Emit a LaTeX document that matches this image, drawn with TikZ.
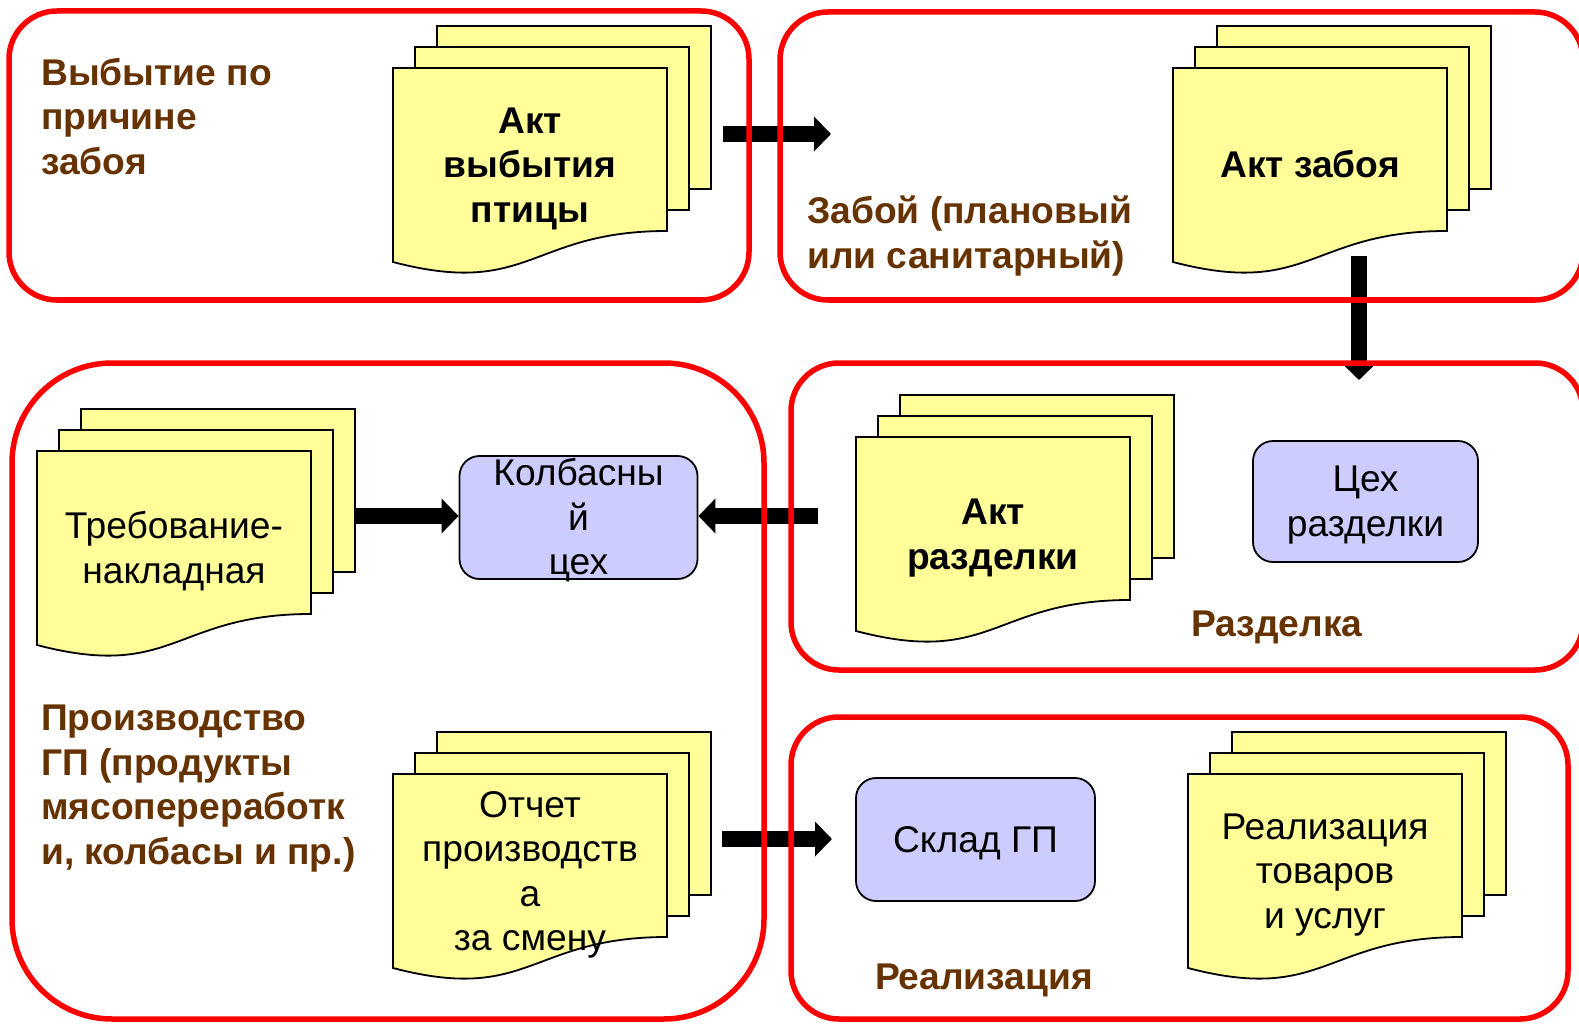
\documentclass[tikz,border=0pt]{standalone}
\usepackage{fontspec}
\setmainfont{Liberation Sans}
\usetikzlibrary{arrows.meta}
\definecolor{docyellow}{HTML}{FFFF99}
\definecolor{procblue}{HTML}{CCCCFF}
\definecolor{labelbrown}{HTML}{663300}
\definecolor{regionred}{HTML}{FF0000}
\tikzset{
  docpage/.style={fill=docyellow, draw=black, line width=1.8pt, line join=miter},
  stackarea/.style={inner sep=0pt, minimum width=318pt, minimum height=236pt},
  doctext/.style={align=center, inner sep=0pt, text=black, font=\fontsize{37.2}{44.5}\selectfont},
  docbold/.style={align=center, inner sep=0pt, text=black, font=\fontsize{37.2}{44.5}\selectfont\bfseries},
  grouplabel/.style={align=left, inner sep=0pt, anchor=west, text=labelbrown, font=\fontsize{37.2}{44.5}\selectfont\bfseries},
  procbox/.style={draw=black, fill=procblue, line width=1.8pt, rounded corners=20pt, inner sep=0pt},
  region/.style={draw=regionred, line width=5.5pt, rounded corners=#1},
  region/.default=48pt,
  blockarrow/.style={draw=black, line width=16pt, -{Triangle[length=17pt,width=34pt]}}
}
\newcommand{\mdoc}[5]{%
  \path[docpage] ({#2+44},{#3-42}) rectangle ({#2+318},{#3+121});
  \path[docpage] ({#2+22},{#3-21}) rectangle ({#2+296},{#3+142});
  \path[docpage] (#2,#3) -- ({#2+274},#3) -- ({#2+274},{#3+163})
     .. controls ({#2+137},{#3+163}) and ({#2+137},{#3+230}) .. (#2,{#3+194}) -- cycle;
  \node[#5] (#1) at ({#2+137},{#3+101}) {#4};
  \node[stackarea] (#1s) at ({#2+159},{#3+76}) {};
}
\begin{document}
\begin{tikzpicture}[x=1pt,y=-1pt]
\useasboundingbox (0,0) rectangle (1579,1024);
\clip (0,0) rectangle (1579,1024);

% document stacks
\mdoc{vyb}{393}{68}{\strut Акт\\\strut выбытия\\\strut птицы}{docbold}
\mdoc{zab}{1173}{68}{\strut Акт забоя}{docbold}
\mdoc{razd}{856}{437}{\strut Акт\\\strut разделки}{docbold}
\mdoc{treb}{37}{451}{\strut Требование-\\\strut накладная}{doctext}
\mdoc{otch}{393}{774}{\strut Отчет\\\strut производств\\\strut а\\\strut за смену}{doctext}
\mdoc{real}{1188}{774}{\strut Реализация\\\strut товаров\\\strut и услуг}{doctext}

% process boxes
\node[procbox, minimum width=238pt, minimum height=123pt] (kolb) at (578.5,517.5) {};
\node[doctext] (kolbt) at ([yshift=-4pt]kolb.center) {\strut Колбасны\\\strut й\\\strut цех};
\node[procbox, minimum width=225pt, minimum height=121pt] (cex) at (1365.5,501.5) {};
\node[doctext] (cext) at ([yshift=-3.5pt]cex.center) {\strut Цех\\\strut разделки};
\node[procbox, minimum width=239pt, minimum height=123pt] (sklad) at (975.5,839.5) {};
\node[doctext] (skladt) at ([yshift=-4.5pt]sklad.center) {\strut Склад ГП};

% group labels
\node[grouplabel] (l1) at (41,121) {\strut Выбытие по\\\strut причине\\\strut забоя};
\node[grouplabel] (l2) at (807,237) {\strut Забой (плановый\\\strut или санитарный)};
\node[grouplabel] (l3) at (41,788.5) {\strut Производство\\\strut ГП (продукты\\\strut мясопереработк\\\strut и, колбасы и пр.)};
\node[grouplabel, anchor=center] (l4) at (1277,628) {\strut Разделка};
\node[grouplabel, anchor=center] (l5) at (984,981) {\strut Реализация};

% arrows
\coordinate (a1s) at (723,134);
\coordinate (a1e) at (831,134);
\draw[blockarrow] (a1s) -- (a1e);
\coordinate (a2s) at (1359,256);
\coordinate (a2e) at (1359,380);
\draw[blockarrow] (a2s) -- (a2e);
\coordinate (a3s) at (818,516);
\draw[blockarrow] (a3s) -- (a3s -| kolb.east);
\coordinate (a4s) at (354,516);
\draw[blockarrow] (a4s) -- (a4s -| kolb.west);
\coordinate (a5s) at (722,839);
\coordinate (a5e) at (832,839);
\draw[blockarrow] (a5s) -- (a5e);

% regions
\draw[region] (9,11) rectangle (749,300);
\draw[region] (780,12) rectangle (1583,300);
\draw[region=100pt] (12,363) rectangle (764,1019);
\draw[region] (791,363) rectangle (1583,670);
\draw[region] (791,717) rectangle (1568,1019);
\end{tikzpicture}
\end{document}
